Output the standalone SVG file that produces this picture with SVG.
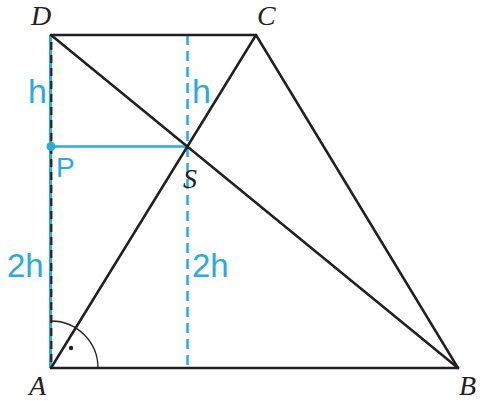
<svg xmlns="http://www.w3.org/2000/svg" width="480" height="401" viewBox="0 0 480 401">
<style>
.k{stroke:#231f20;stroke-width:2.5;fill:none;stroke-linecap:round}
.b{stroke:#29abe2;stroke-width:2.5;fill:none}
.lbl{font-family:"Liberation Serif",serif;font-style:italic;font-size:28px;fill:#231f20}
.bl{font-family:"Liberation Sans",sans-serif;fill:#29abe2}
</style>
<rect width="480" height="401" fill="#fff"/>
<g id="connectors">
<line x1="50.5" y1="35" x2="50.5" y2="368" stroke="#29abe2" stroke-width="3"/>
<line x1="51.3" y1="42" x2="51.3" y2="368" stroke="#231f20" stroke-width="2.2" stroke-dasharray="8 5"/>
<line class="b" x1="187.5" y1="35" x2="187.5" y2="368" stroke-dasharray="10 6"/>
<line class="b" x1="51" y1="146.5" x2="187.5" y2="146.5"/>
<line class="k" x1="51" y1="35" x2="256" y2="35"/>
<line class="k" x1="51" y1="368" x2="458" y2="368"/>
<line class="k" x1="256" y1="35" x2="458" y2="368"/>
<line class="k" x1="51" y1="35" x2="458" y2="368"/>
<line class="k" x1="51" y1="368" x2="256" y2="35"/>
<path d="M98 368 A47 47 0 0 0 51 321" stroke="#231f20" stroke-width="1.3" fill="none"/>
<circle cx="71" cy="348" r="2.2" fill="#231f20"/>
</g>
<g id="node-D"><text class="lbl" x="31" y="25">D</text></g>
<g id="node-C"><text class="lbl" x="257" y="25">C</text></g>
<g id="node-S"><text class="lbl" x="183" y="188">S</text></g>
<g id="node-A"><text class="lbl" x="29" y="395">A</text></g>
<g id="node-B"><text class="lbl" x="459" y="395">B</text></g>
<g id="node-P"><circle cx="51" cy="146.5" r="4.5" fill="#29abe2"/><text class="bl" x="56" y="177" font-size="28">P</text></g>
<g id="labels">
<text class="bl" x="28" y="103" font-size="34">h</text>
<text class="bl" x="192" y="103" font-size="34">h</text>
<text class="bl" x="7" y="277" font-size="33">2h</text>
<text class="bl" x="192" y="277" font-size="33">2h</text>
</g>
</svg>
